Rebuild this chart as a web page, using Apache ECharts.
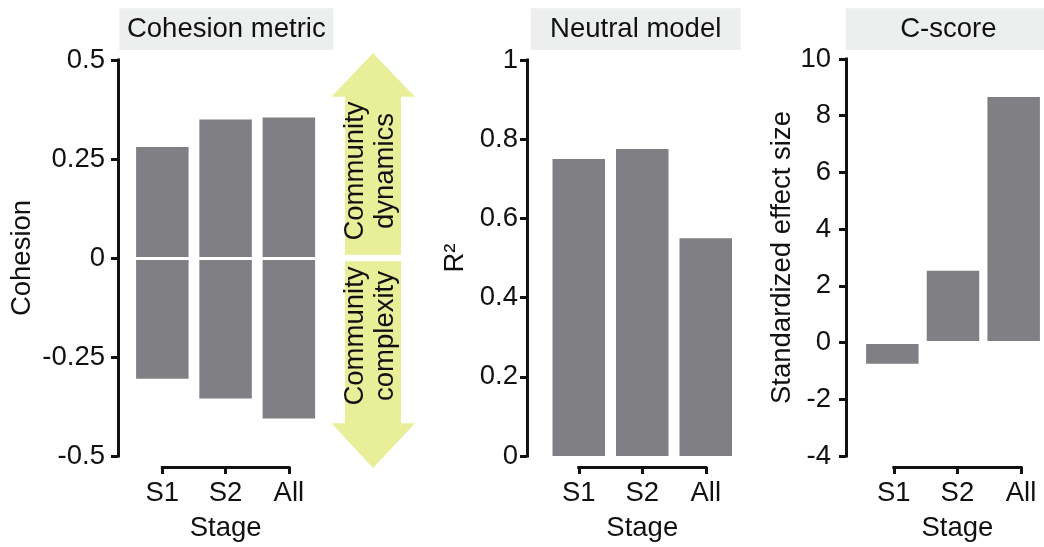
<!DOCTYPE html>
<html>
<head>
<meta charset="utf-8">
<script src="https://cdn.jsdelivr.net/npm/echarts@6/dist/echarts.min.js"></script>
<style>
html,body{margin:0;padding:0;background:#fff;}
#chart{width:1044px;height:547px;}
</style>
</head>
<body>
<div id="chart"></div>
<script>
// ---- data ----
const categories = ['S1', 'S2', 'All'];
const panelTitles = ['Cohesion metric', 'Neutral model', 'C-score'];
const cohesionPositive = [0.28, 0.35, 0.355];
const cohesionNegative = [-0.305, -0.355, -0.405];
const neutralR2 = [0.75, 0.775, 0.55];
const cScoreSES = [-0.75, 2.53, 8.66];
const cohesionTicks = [-0.5, -0.25, 0, 0.25, 0.5];
const r2Ticks = [0, 0.2, 0.4, 0.6, 0.8, 1];
const sesTicks = [-4, -2, 0, 2, 4, 6, 8, 10];
const arrowTopText = 'Community\ndynamics';
const arrowBottomText = 'Community\ncomplexity';

// ---- style ----
const FONT = '"Liberation Sans", Arial, Helvetica, sans-serif';
const FS = 27.5;
const INK = '#111111';
const BAR = '#808084';
const STRIP = '#edefee';
const ARROW = '#e9ef98';

const grids = [
  {left: 130.7, top: 60, width: 189.8, height: 396},
  {left: 547, top: 60, width: 190.5, height: 396},
  {left: 862, top: 59, width: 190.8, height: 397}
];
const yOffsets = [12.7, 20, 16];
const yLabelMargins = [13, 9, 15];
const yNames = ['Cohesion', 'R²', 'Standardized effect size'];
const yNameGaps = [82, 58, 37];
const tickSets = [cohesionTicks, r2Ticks, sesTicks];

function bracketGrid(g) {
  const band = g.width / categories.length;
  return {left: g.left + band / 2, top: g.top, width: band * (categories.length - 1), height: g.height};
}

const allGrids = grids.concat(grids.map(bracketGrid));

const xAxes = [];
const yAxes = [];
grids.forEach((g, i) => {
  xAxes.push({gridIndex: i, type: 'category', data: categories, show: false});
  const t = tickSets[i];
  yAxes.push({
    gridIndex: i, type: 'value',
    min: t[0], max: t[t.length - 1], interval: t[1] - t[0],
    offset: yOffsets[i],
    axisLine: {show: true, lineStyle: {color: INK, width: 3, cap: 'square'}},
    axisTick: {show: true, length: 7, lineStyle: {color: INK, width: 3}},
    axisLabel: {fontSize: FS, color: INK, margin: yLabelMargins[i], fontFamily: FONT},
    splitLine: {show: false},
    name: yNames[i], nameLocation: 'middle', nameGap: yNameGaps[i],
    nameTextStyle: {fontSize: FS, color: INK, fontFamily: FONT}
  });
});
grids.forEach((g, i) => {
  xAxes.push({
    gridIndex: 3 + i, type: 'category', data: categories, boundaryGap: false,
    position: 'bottom', offset: 16.5,
    axisLine: {show: true, onZero: false, lineStyle: {color: INK, width: 3, cap: 'square'}},
    axisTick: {show: true, length: 7, lineStyle: {color: INK, width: 3}},
    axisLabel: {fontSize: FS, color: INK, margin: 12, fontFamily: FONT},
    name: 'Stage', nameLocation: 'middle', nameGap: 47,
    nameTextStyle: {fontSize: FS, color: INK, fontFamily: FONT}
  });
  yAxes.push({gridIndex: 3 + i, type: 'value', min: 0, max: 1, show: false});
});

const zeroLine = {
  silent: true, symbol: 'none', label: {show: false},
  lineStyle: {color: '#ffffff', width: 3, type: 'solid'},
  emphasis: {disabled: true},
  data: [{yAxis: 0}]
};

const barCommon = {type: 'bar', barWidth: 52.5, itemStyle: {color: BAR}, silent: true};

const series = [
  Object.assign({}, barCommon, {xAxisIndex: 0, yAxisIndex: 0, data: cohesionPositive, barGap: '-100%'}),
  Object.assign({}, barCommon, {xAxisIndex: 0, yAxisIndex: 0, data: cohesionNegative, barGap: '-100%', markLine: zeroLine}),
  Object.assign({}, barCommon, {xAxisIndex: 1, yAxisIndex: 1, data: neutralR2}),
  Object.assign({}, barCommon, {xAxisIndex: 2, yAxisIndex: 2, data: cScoreSES, markLine: zeroLine})
];

// facet strips
const strips = [
  {x: 119.3, w: 214},
  {x: 530.7, w: 210},
  {x: 845.7, w: 205.3}
];
const graphics = [];
strips.forEach((s, i) => {
  graphics.push({type: 'rect', shape: {x: s.x, y: 8.3, width: s.w, height: 41.7}, style: {fill: STRIP}, silent: true});
  graphics.push({type: 'text', x: s.x + s.w / 2, y: 29.5,
    style: {text: panelTitles[i], font: FS + 'px ' + FONT, fill: INK, align: 'center', verticalAlign: 'middle'}, silent: true});
});

const chart = echarts.init(document.getElementById('chart'), null, {renderer: 'canvas'});
chart.setOption({
  animation: false,
  backgroundColor: '#ffffff',
  textStyle: {fontFamily: FONT},
  grid: allGrids,
  xAxis: xAxes,
  yAxis: yAxes,
  series: series,
  graphic: graphics
});

// double arrow annotation beside the cohesion panel, split at cohesion = 0
const zy = chart.convertToPixel({yAxisIndex: 0}, 0);
const cx = 373, headL = 331.5, headR = 415, shaftL = 345, shaftR = 401;
const topTip = 53.3, topBase = 96.7, botBase = 423.3, botTip = 468;
const gapHalf = 3.2;
graphics.push({type: 'polygon', silent: true, style: {fill: ARROW},
  shape: {points: [[cx, topTip], [headR, topBase], [shaftR, topBase], [shaftR, zy - gapHalf], [shaftL, zy - gapHalf], [shaftL, topBase], [headL, topBase]]}});
graphics.push({type: 'polygon', silent: true, style: {fill: ARROW},
  shape: {points: [[shaftL, zy + gapHalf], [shaftR, zy + gapHalf], [shaftR, botBase], [headR, botBase], [cx, botTip], [headL, botBase], [shaftL, botBase]]}});
graphics.push({type: 'text', x: 370, y: 171, rotation: Math.PI / 2, silent: true,
  style: {text: arrowTopText, font: FS + 'px ' + FONT, lineHeight: 30, fill: INK, align: 'center', verticalAlign: 'middle'}});
graphics.push({type: 'text', x: 370, y: 336, rotation: Math.PI / 2, silent: true,
  style: {text: arrowBottomText, font: FS + 'px ' + FONT, lineHeight: 30, fill: INK, align: 'center', verticalAlign: 'middle'}});
chart.setOption({graphic: graphics});
</script>
</body>
</html>
